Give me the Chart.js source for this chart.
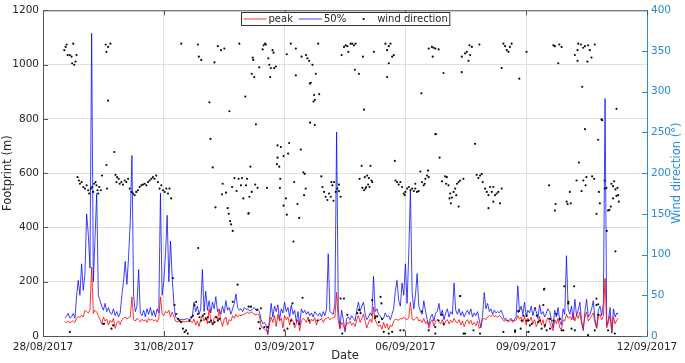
<!DOCTYPE html>
<html>
<head>
<meta charset="utf-8">
<script src="https://cdn.jsdelivr.net/npm/chart.js@4.4.1/dist/chart.umd.min.js"></script>
<style>
html, body { margin: 0; padding: 0; background: #fff; }
#wrap { width: 685px; height: 363px; }
</style>
</head>
<body>
<div id="wrap"><canvas id="footprintChart" width="685" height="363"></canvas></div>
<script>
// hourly footprint values, first value is 28/08 13:00 (hours counted from 28/08/2017 00:00)
const startHour = 13;

// 50% footprint (m)
const p50 = [
  68,72,83,66,70,83,65,144,205,150,266,
  168,230,450,375,250,1115,200,360,525,150,130,110,95,120,90,105,85,80,100,75,90,70,85,150,
  200,275,190,290,420,665,150,90,110,245,85,75,95,70,100,80,105,75,95,70,100,85,527,150,
  200,300,445,200,350,215,120,70,65,62,60,62,60,62,65,60,62,70,125,90,110,80,100,245,
  90,165,95,130,85,125,100,145,90,100,80,110,85,130,95,105,80,100,120,155,105,95,100,90,
  105,98,100,92,95,100,105,95,100,90,60,45,50,40,5,60,120,70,110,90,115,60,100,85,
  125,90,105,70,115,80,95,50,90,40,100,85,95,80,90,75,85,70,90,80,75,85,70,90,
  75,100,303,90,85,80,120,752,100,30,95,60,15,65,70,60,75,65,55,95,125,90,110,125,
  80,60,70,85,75,220,90,100,80,75,60,65,85,70,75,60,80,100,165,205,130,110,195,150,
  266,120,303,540,160,100,150,230,110,90,80,130,90,60,40,70,80,55,85,90,120,75,95,60,
  85,100,70,90,80,195,95,80,100,75,90,70,85,95,80,100,70,85,75,90,60,30,75,160,
  100,120,90,100,80,95,85,90,85,95,80,60,65,55,60,65,55,60,70,185,90,110,80,125,
  70,95,85,110,75,100,90,65,115,80,90,70,85,100,90,60,30,95,70,105,55,40,100,80,
  296,100,80,110,60,135,75,95,125,55,20,90,135,70,80,100,130,60,30,95,110,75,120,875,
  40,60,105,10,100,70,85,80
];

// peak footprint (m)
const peak = [
  52,50,55,48,53,56,50,65,72,68,77,
  70,95,90,85,95,254,83,95,88,75,60,45,70,55,62,40,58,50,65,28,48,55,42,60,
  65,70,62,68,70,144,60,55,65,58,52,62,55,60,50,65,58,62,55,60,52,64,144,80,
  75,90,85,95,70,88,72,55,52,54,52,55,53,52,55,52,54,50,62,40,55,35,60,75,
  55,70,45,100,60,40,65,75,60,95,55,35,62,70,40,60,55,75,65,80,70,77,75,78,
  80,85,88,82,89,85,80,78,82,75,34,30,25,22,10,45,70,50,75,35,80,55,65,30,
  75,60,70,40,65,55,30,45,60,20,55,65,60,50,70,45,62,55,68,40,60,58,65,50,
  62,65,70,60,65,68,70,161,55,25,50,40,22,50,45,55,40,48,35,60,75,50,65,80,
  55,30,48,62,50,107,60,45,35,40,25,50,30,45,22,40,35,55,62,60,58,65,62,70,
  64,60,68,125,62,58,65,70,55,60,50,65,45,55,28,50,60,35,55,62,50,45,60,38,
  55,60,45,58,50,65,52,48,60,40,55,35,52,60,45,58,40,50,38,55,28,40,62,65,
  60,70,75,72,78,70,75,68,76,70,60,55,58,52,55,60,50,56,58,75,62,70,50,72,
  40,65,55,70,45,60,35,50,72,40,60,30,55,68,50,35,20,60,45,65,30,25,60,55,
  80,65,72,60,85,55,78,65,88,45,30,70,89,55,65,75,85,50,28,70,80,60,75,212,
  30,50,75,15,70,45,60,65
];

// wind direction observations: [hour, degrees]
const windObs = [
  [12.7,351],[13.5,355],[14.1,358],[14.7,345],[16.0,345],[17.0,343],[17.4,335],[18.0,359],[18.6,333],[19.4,337],[20.0,345],
  [20.6,195],[21.4,191],[22.0,187],[23.0,189],[24.0,183],[25.0,181],[26.0,185],[26.9,179],[27.5,175],[28.5,181],[29.3,183],
  [29.9,177],[30.5,187],[31.3,189],[31.9,185],[32.5,179],[32.9,175],[33.5,183],[34.5,179],[35.2,197],
  [37.4,358],[38.8,355],[40.2,359],[37.8,349],[38.8,289],[42.4,226],[37.8,210],[38.2,181],
  [43.2,198],[44.2,195],[45.1,193],[43.8,189],[45.7,187],[46.7,189],[47.7,186],[48.7,191],[49.7,189],[50.7,193],[51.7,181],
  [52.7,177],[53.7,175],[54.6,173],[55.6,177],[56.6,179],[57.6,183],[58.6,185],[59.6,186],[60.6,187],[61.6,185],[62.6,189],
  [63.6,191],[64.6,193],[65.5,195],[16.0,5],[36.4,15],[40.8,9],[41.8,13],[35.8,15],
  [66.5,193],[67.5,197],[68.5,189],[69.5,181],[70.5,185],[71.5,179],[72.5,177],[73.5,181],[74.5,175],[75.4,181],[76.4,169],
  [77.4,71],[78.4,38],[79.4,27],[80.4,21],[81.4,19],[82.4,17],[83.4,9],[84.4,5],[85.3,7],[86.3,3],[87.3,19],[88.3,23],
  [89.3,25],[90.3,38],[91.3,42],[92.3,27],[93.3,23],[94.3,19],[95.2,25],[96.2,27],[97.2,21],[98.2,23],[99.2,17],[100.2,19],
  [101.2,15],[102.2,17],[103.2,23],[104.2,19],[105.1,21],
  [82.4,359],[92.3,358],[92.9,343],[94.3,339],[99.2,287],[99.8,242],[101.2,207],[102.2,336],[104.2,356],[106.1,351],[108.1,353],
  [102.8,158],[92.5,108],[107.1,187],[106.7,174],[109.1,176],[110.1,157],[110.7,150],[111.5,141],[112.1,137],[113.1,129],
  [112.7,183],[114.1,194],[115.4,178],[116.6,193],[117.0,359],[118.0,185],[118.6,194],[119.4,169],[120.6,294],[121.0,185],
  [121.6,193],[122.6,151],[116.0,63],[113.1,42],[111.1,276],
  [122.6,36],[124.0,36],[127.4,32],[128.5,17],[129.3,9],[129.9,34],[131.9,11],[133.9,11],[143.8,7],[147.8,19],[148.7,40],
  [152.7,15],[158.6,19],[163.6,19],[178.4,3],
  [123.6,208],[123.0,171],[122.4,150],[126.9,260],[126.5,186],[127.9,182],[124.4,177],[125.0,342],[125.3,339],[125.9,318],
  [124.4,322],[128.9,330],[130.9,352],[131.5,357],[132.3,359],[132.9,358],[134.3,341],[134.9,333],[135.4,318],[136.8,351],
  [137.4,348],[137.8,329],[138.8,331],[135.8,329],[133.5,182],[139.8,234],[141.8,232],[140.8,208],[139.4,211],[139.8,219],
  [143.4,221],[141.4,193],[141.2,182],[143.4,160],[144.8,169],[145.3,149],[146.7,237],[146.1,224],[149.7,189],[151.7,162],
  [152.7,145],[153.7,229],[155.2,201],[156.0,199],[156.6,181],[155.6,173],[149.3,116],[145.3,346],[147.7,359],[150.7,353],
  [154.1,343],[156.8,345],[157.6,341],[158.6,338],[160.6,333],[162.6,322],[159.6,311],[159.0,310],[161.6,296],[162.0,290],
  [161.2,288],[164.6,297],[164.0,359],[159.2,262],[162.0,259],[150.7,320],
  [165.9,196],[166.5,183],[167.5,177],[168.5,171],[169.5,167],[170.5,175],[171.5,171],[172.5,185],[173.5,189],[174.5,177],
  [175.4,181],[176.4,186],[177.4,171],[171.9,189],[173.1,166],[145.7,9],[149.7,15],[154.7,47],[179.4,46],
  [176.4,178],[179.4,355],[180.4,357],[181.4,356],[182.0,349],[183.3,359],[184.3,359],[185.3,357],[186.3,359],[178.0,345],
  [190.7,343],[197.2,349],[204.1,359],[205.1,351],[206.1,356],[207.1,359],[208.1,343],[209.1,345],[206.1,335],[205.1,318],
  [185.9,327],[188.3,322],[191.3,278],
  [188.7,193],[189.9,209],[191.8,195],[193.2,197],[194.2,194],[195.2,209],[195.8,191],[196.2,189],[193.8,186],[194.6,183],
  [190.3,182],[191.3,179],[192.2,181],[192.6,183],
  [209.7,215],[210.1,191],[211.1,189],[212.0,186],[213.0,189],[214.0,183],[215.0,175],[215.6,173],[216.0,177],[217.0,181],
  [218.0,183],[219.0,179],[220.0,181],[221.0,178],[221.9,181],[222.9,177],[223.9,178],[221.9,187],[224.9,202],[225.9,189],
  [226.9,185],[227.5,187],[227.9,193],[228.9,197],[229.5,203],[229.9,195],[234.2,248],[225.5,298],[229.9,353],[231.8,355],
  [232.8,354],[232.3,343],
  [177.4,46],[181.4,26],[189.3,28],[197.8,22],[199.2,24],[200.2,17],[201.2,48],[201.7,40],[203.1,5],[208.1,5],[213.0,7],
  [225.9,30],[229.9,7],[233.8,11],[187.3,28],[188.3,32],[196.2,44],[198.2,24],[202.1,21],[206.1,3],[215.0,7],[235.8,19],
  [237.8,26],[238.8,15],[248.7,49],[250.7,3],[256.6,7],
  [233.8,353],[235.8,352],[238.7,323],[249.6,324],[249.6,343],[251.6,347],[252.6,349],[253.6,338],[254.6,345],[254.2,357],
  [255.6,355],[260.1,358],[273.4,329],[274.4,359],[275.4,356],[276.4,351],[277.4,349],[278.3,355],[279.3,359],[283.9,316],
  [288.2,349],[233.8,248],[236.4,219],[257.5,236],
  [237.8,190],[239.7,196],[240.7,195],[240.3,187],[241.7,185],[242.7,175],[243.7,170],[244.7,177],[245.7,181],[246.3,173],
  [246.7,187],[247.7,189],[248.6,191],[250.6,193],[242.3,169],[243.1,163],[247.7,159],
  [258.5,198],[259.5,194],[260.5,197],[261.5,199],[262.1,189],[263.5,181],[264.5,177],[265.5,173],[266.5,183],[267.5,177],
  [268.4,183],[269.4,173],[270.4,175],[271.4,177],[272.4,163],[273.4,181],[265.5,157],[268.4,165],
  [248.6,49],[233.8,3],[251.6,3],[260.5,3],[274.4,5],[281.3,5],[283.3,30],[284.7,9],[286.3,25],[288.2,19],[290.2,13],
  [283.4,31],[285.3,19],[288.3,25],[291.3,15],[293.3,34],[295.2,17],[300.2,7],[302.2,21],[304.2,19],[306.1,27],[308.1,21],
  [310.1,7],[281.4,7],[289.3,5],[297.2,9],[298.6,57],[313.1,40],[329.9,46],[330.9,39],
  [304.2,357],[305.1,356],[307.7,358],[309.1,355],[307.1,335],[317.0,345],[318.6,351],[319.0,359],[320.6,358],[322.0,354],
  [323.0,356],[324.9,357],[325.9,351],[326.9,342],[328.9,358],[324.5,337],[318.6,338],[321.4,306],[341.8,279],[332.9,266],
  [333.3,265],[330.9,241],[323.0,254],[319.4,213],
  [301.6,185],[314.0,177],[305.5,162],[305.1,154],[312.1,165],[312.7,162],[314.6,163],[318.0,191],[321.0,178],[322.0,191],
  [323.9,195],[323.4,185],[327.3,196],[328.5,193],[331.3,177],[331.9,163],[329.9,150],[334.8,191],[334.8,181],[335.8,182],
  [336.8,154],[337.6,155],[338.4,159],[338.8,187],[339.8,184],[340.4,190],[341.2,180],[342.4,182],[341.8,172],[342.8,173],
  [343.2,165],[339.8,169],[336.0,129],[341.2,104],
  [298.8,58],[310.7,61],[316.6,61],[298.2,38],[289.3,19],[294.3,25],[296.2,19],[299.2,13],[302.2,9],[309.1,7],[313.1,42],
  [315.0,9],[317.0,7],[324.9,1],[328.9,7],[329.9,38],[330.9,26],[336.8,7],[340.8,3]
];

// x tick labels, every 72 hours
const tickHours = [0, 72, 144, 216, 288, 360];
const tickLabels = ['28/08/2017', '31/08/2017', '03/09/2017', '06/09/2017', '09/09/2017', '12/09/2017'];

const textCol = '#262626';
const rightCol = '#2a8ad4';
const gridCol = '#dfdfdf';

const p50Pts = p50.map((v, i) => ({ x: startHour + i, y: v }));
const peakPts = peak.map((v, i) => ({ x: startHour + i, y: v }));
const windPts = windObs.map(o => ({ x: o[0], y: o[1] }));

// legend box, top border, inner ticks and right title
const framePlugin = {
  id: 'framePlugin',
  afterDraw(chart) {
    const ctx = chart.ctx;
    const a = chart.chartArea;
    ctx.save();
    // top border
    ctx.strokeStyle = '#555';
    ctx.lineWidth = 1;
    ctx.beginPath();
    ctx.moveTo(a.left, a.top + 0.5);
    ctx.lineTo(a.right, a.top + 0.5);
    ctx.stroke();

    // inner tick marks
    const xs = chart.scales.x, ys = chart.scales.y, y1 = chart.scales.y1;
    ctx.beginPath();
    xs.ticks.forEach(t => {
      const px = Math.round(xs.getPixelForValue(t.value)) + 0.5;
      ctx.moveTo(px, a.bottom); ctx.lineTo(px, a.bottom - 5);
      ctx.moveTo(px, a.top); ctx.lineTo(px, a.top + 5);
    });
    ys.ticks.forEach(t => {
      const py = Math.round(ys.getPixelForValue(t.value)) + 0.5;
      ctx.moveTo(a.left, py); ctx.lineTo(a.left + 5, py);
    });
    ctx.stroke();
    ctx.strokeStyle = rightCol;
    ctx.beginPath();
    y1.ticks.forEach(t => {
      const py = Math.round(y1.getPixelForValue(t.value)) + 0.5;
      ctx.moveTo(a.right, py); ctx.lineTo(a.right - 5, py);
    });
    ctx.stroke();

    // right axis title
    ctx.fillStyle = rightCol;
    ctx.font = '11.5px "DejaVu Sans"';
    ctx.textAlign = 'center';
    ctx.textBaseline = 'middle';
    ctx.translate(677, (a.top + a.bottom) / 2);
    ctx.rotate(-Math.PI / 2);
    ctx.fillText('Wind direction (\u00b0)', 0, 0);
    ctx.restore();

    // legend
    ctx.save();
    ctx.font = '10px "DejaVu Sans"';
    const items = chart.data.datasets.map(ds => ({
      label: ds.label, color: ds.borderColor, dot: ds.showLine === false
    }));
    const markW = 23, gap = 2, spacing = 6;
    let total = 2;
    items.forEach(it => { it.w = ctx.measureText(it.label).width; total += markW + gap + it.w + spacing; });
    total -= spacing - 2;
    const bx = Math.round((a.left + a.right) / 2 - total / 2) + 0.5;
    const by = 12.5, bh = 13;
    ctx.fillStyle = '#fff';
    ctx.fillRect(bx, by, total, bh);
    ctx.strokeStyle = '#333';
    ctx.lineWidth = 1;
    ctx.strokeRect(bx, by, total, bh);
    let cx = bx + 2;
    const cy = by + bh / 2;
    items.forEach(it => {
      if (it.dot) {
        ctx.fillStyle = '#000';
        ctx.beginPath();
        ctx.arc(cx + markW / 2, cy, 1.1, 0, Math.PI * 2);
        ctx.fill();
      } else {
        ctx.strokeStyle = it.color;
        ctx.beginPath();
        ctx.moveTo(cx, cy); ctx.lineTo(cx + markW, cy);
        ctx.stroke();
      }
      ctx.fillStyle = textCol;
      ctx.textAlign = 'left';
      ctx.textBaseline = 'middle';
      ctx.fillText(it.label, cx + markW + gap, cy + 0.5);
      cx += markW + gap + it.w + spacing;
    });
    ctx.restore();
  }
};

new Chart(document.getElementById('footprintChart'), {
  type: 'line',
  data: {
    datasets: [
      { label: 'peak', data: peakPts, yAxisID: 'y', borderColor: 'rgba(255,0,0,0.8)', borderWidth: 1,
        pointRadius: 0, tension: 0, order: 1 },
      { label: '50%', data: p50Pts, yAxisID: 'y', borderColor: 'rgba(0,0,255,0.75)', borderWidth: 1,
        pointRadius: 0, tension: 0, order: 2 },
      { label: 'wind direction', data: windPts, yAxisID: 'y1', showLine: false, borderColor: '#000',
        backgroundColor: '#111', pointRadius: 1.1, pointBorderWidth: 0, order: 0 }
    ]
  },
  options: {
    responsive: false,
    animation: false,
    devicePixelRatio: 1,
    layout: { padding: { top: 6, right: 0, left: 0, bottom: 0 } },
    plugins: { legend: { display: false }, tooltip: { enabled: false } },
    scales: {
      x: {
        type: 'linear', min: 0, max: 360,
        grid: { color: gridCol, drawTicks: false },
        border: { color: '#555' },
        ticks: {
          stepSize: 72, autoSkip: false, maxRotation: 0, padding: 5, color: textCol,
          font: { family: 'DejaVu Sans', size: 10.5 },
          callback: v => tickLabels[tickHours.indexOf(v)]
        },
        title: { display: true, text: 'Date', color: textCol, padding: { top: 0, bottom: 0 },
          font: { family: 'DejaVu Sans', size: 11.5 } },
        afterFit: s => { s.height = 27; }
      },
      y: {
        position: 'left', min: 0, max: 1200,
        grid: { color: gridCol, drawTicks: false },
        border: { color: '#555' },
        ticks: { stepSize: 200, padding: 4, color: textCol, font: { family: 'DejaVu Sans', size: 10.5 },
          callback: v => String(v) },
        title: { display: true, text: 'Footprint (m)', color: textCol, padding: { top: 1, bottom: 0 },
          font: { family: 'DejaVu Sans', size: 11.5 } },
        afterFit: s => { s.width = 43; }
      },
      y1: {
        position: 'right', min: 0, max: 400,
        grid: { display: false, drawTicks: false },
        border: { color: rightCol },
        ticks: { stepSize: 50, padding: 4, color: rightCol, font: { family: 'DejaVu Sans', size: 10.5 },
          callback: v => String(v) },
        afterFit: s => { s.width = 38; }
      }
    }
  },
  plugins: [framePlugin]
});
</script>
</body>
</html>
